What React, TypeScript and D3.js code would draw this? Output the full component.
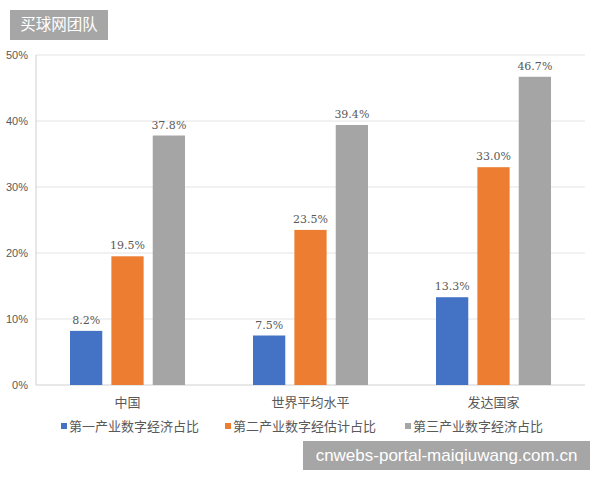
import React from "react";
import * as d3 from "d3";

const categories = ["中国", "世界平均水平", "发达国家"];
const seriesNames = ["第一产业数字经济占比", "第二产业数字经估计占比", "第三产业数字经济占比"];
const primary = [8.2, 7.5, 13.3];
const secondary = [19.5, 23.5, 33.0];
const tertiary = [37.8, 39.4, 46.7];
const yTicks = [0, 10, 20, 30, 40, 50];
const colors = ["#4472c4", "#ed7d31", "#a5a5a5"];

export default function App() {
  const W = 600, H = 480;
  const left = 36, right = 585, top = 55, bottom = 385;
  const series = [primary, secondary, tertiary];
  const y = d3.scaleLinear().domain([0, 50]).range([bottom, top]);
  const x0 = d3.scaleBand<string>().domain(categories).range([left, right]).paddingInner(0).paddingOuter(0);
  const x1 = d3.scaleBand<number>().domain([0, 1, 2]).range([34, x0.bandwidth() - 34]).paddingInner(0.22).paddingOuter(0);
  const legendX = [61, 225, 405];
  const cjk = "'Noto Sans CJK SC', sans-serif";
  return (
    <svg width={W} height={H} style={{ position: "absolute", left: 0, top: 0, background: "#fff" }}>
      <rect x={0} y={0} width={W} height={H} fill="#fff" />
      {yTicks.map((t) => (
        <g key={t}>
          <line x1={left} x2={right} y1={y(t)} y2={y(t)} stroke={t === 0 ? "#d0d0d0" : "#e4e4e4"} strokeWidth={1} />
          <text x={28} y={y(t)} dy="0.35em" textAnchor="end" fontSize={11} fill="#595959" fontFamily="'Liberation Sans', sans-serif">{t}%</text>
        </g>
      ))}
      <line x1={left} x2={left} y1={top} y2={bottom} stroke="#d0d0d0" />
      {categories.map((c, ci) => (
        <g key={c} transform={`translate(${x0(c)},0)`}>
          {series.map((s, si) => (
            <g key={si}>
              <rect x={x1(si)} y={y(s[ci])} width={x1.bandwidth()} height={bottom - y(s[ci])} fill={colors[si]} />
              <text x={(x1(si) as number) + x1.bandwidth() / 2} y={y(s[ci]) - 7} textAnchor="middle" fontSize={11} fill="#595959" fontFamily="'DejaVu Serif', serif">{s[ci].toFixed(1)}%</text>
            </g>
          ))}
          <text x={x0.bandwidth() / 2} y={402} dy="0.35em" textAnchor="middle" fontSize={13} fill="#595959" fontFamily={cjk}>{c}</text>
        </g>
      ))}
      {seriesNames.map((n, i) => (
        <g key={n}>
          <rect x={legendX[i]} y={423} width={6} height={6} fill={colors[i]} />
          <text x={legendX[i] + 8} y={426} dy="0.35em" fontSize={13} fill="#595959" fontFamily={cjk}>{n}</text>
        </g>
      ))}
      <rect x={10} y={10} width={98} height={30} fill="#a6a6a6" />
      <text x={59} y={25} dy="0.35em" textAnchor="middle" fontSize={15.5} fill="#fff" fontFamily={cjk}>买球网团队</text>
      <rect x={303} y={441} width={287} height={29} fill="#a6a6a6" />
      <text x={446.5} y={455.5} dy="0.35em" textAnchor="middle" fontSize={17} fill="#fff" fontFamily="'Liberation Sans', sans-serif">cnwebs-portal-maiqiuwang.com.cn</text>
    </svg>
  );
}
